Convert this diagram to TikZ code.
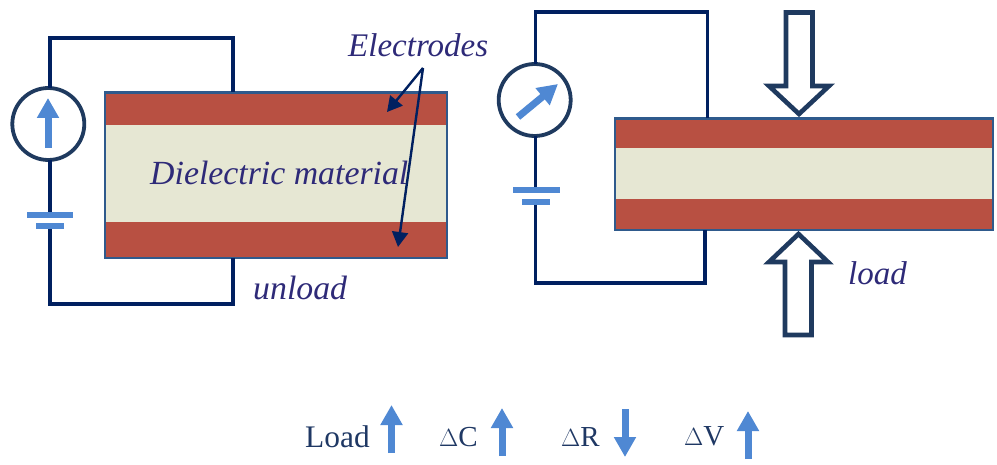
\documentclass[tikz,border=0pt]{standalone}
\usepackage{fontspec}
\setmainfont{Liberation Serif}
\usetikzlibrary{arrows.meta}
\definecolor{wire}{HTML}{002060}
\definecolor{ring}{HTML}{1F3A5F}
\definecolor{sky}{HTML}{4F88D3}
\definecolor{brick}{HTML}{B85042}
\definecolor{cream}{HTML}{E6E7D3}
\definecolor{edgeblue}{HTML}{2F5A8C}
\definecolor{ink}{HTML}{2E2A78}
\definecolor{navytext}{HTML}{1F3864}
\tikzset{
  x=1pt,y=-1pt,
  wireline/.style={draw=wire,line width=3.2pt,line join=miter},
  meter/.style={circle,draw=ring,fill=white,line width=3.8pt,minimum size=72pt,inner sep=0pt,outer sep=0pt},
  plate/.style={fill=sky,draw=none,minimum height=6pt,inner sep=0pt,outer sep=0pt},
  band/.style={fill=brick,draw=none,inner sep=0pt,outer sep=0pt},
  core/.style={fill=cream,draw=none,inner sep=0pt,outer sep=0pt},
  frame/.style={draw=edgeblue,line width=2.2pt,fill=none,inner sep=0pt,outer sep=0pt},
  flow/.style={draw=sky,line width=7pt,-{Triangle[length=20pt,width=21pt]}},
  blockarrow/.style={draw=ring,fill=white,line width=4.6pt,line join=miter},
  callout/.style={draw=wire,line width=2.4pt,-{Triangle[length=15pt,width=16pt]}},
  itlabel/.style={text=ink,font=\itshape\fontsize{33}{36}\selectfont,inner sep=0pt,anchor=base west},
  itwide/.style={text=ink,font=\itshape\fontsize{33.8}{36}\selectfont,inner sep=0pt,anchor=base west},
  rmlabel/.style={text=navytext,font=\fontsize{29}{32}\selectfont,inner sep=0pt,anchor=base west},
  rmwide/.style={text=navytext,font=\fontsize{31.4}{34}\selectfont,inner sep=0pt,anchor=base west},
}
\newcommand{\mkbox}[7]{% name x0 x1 y0 y1 y2 y3
  \node[band,anchor=north west,minimum width=#3pt-#2pt,minimum height=#7pt-#4pt] (#1top) at (#2,#4) {};
  \node[core,anchor=north west,minimum width=#3pt-#2pt,minimum height=#6pt-#5pt] (#1core) at (#2,#5) {};
  \node[frame,anchor=north west,minimum width=#3pt-#2pt,minimum height=#7pt-#4pt] (#1) at (#2,#4) {};
}
\begin{document}
\begin{tikzpicture}
\useasboundingbox (0,0) rectangle (997,465);
% ---- left circuit
\coordinate (lTL) at (50,38);
\coordinate (lTR) at (233,38);
\coordinate (lBL) at (50,304);
\coordinate (lBR) at (233,304);
\mkbox{lbox}{105}{447}{92.5}{125}{222}{258}
\node[meter] (lm) at (48.3,124) {};
\node[plate,minimum width=46pt] (lp1) at (50,215) {};
\node[plate,minimum width=28pt] (lp2) at (50,226.5) {};
\draw[wireline] (lm.north -| lTL) -- (lTL) -- (lTR) -- (lTR |- lbox.north);
\draw[wireline] (lm.south -| lTL) -- (lp1.north);
\draw[wireline] (lp2.south) -- (lBL) -- (lBR) -- (lBR |- lbox.south);
\coordinate (lfa) at (48,148);
\coordinate (lfb) at (48,98);
\draw[flow] (lfa) -- (lfb);
% ---- right circuit
\coordinate (rTL) at (535.5,12);
\coordinate (rTR) at (707.5,12);
\coordinate (rBL) at (535.5,283);
\coordinate (rBR) at (705,283);
\mkbox{rbox}{615}{993}{118.5}{148}{199}{230}
\node[meter] (rm) at (534.7,100) {};
\node[plate,minimum width=47pt] (rp1) at (536.5,190) {};
\node[plate,minimum width=28pt] (rp2) at (535.5,202) {};
\draw[wireline] (rm.north -| rTL) -- (rTL) -- (rTR) -- (rTR |- rbox.north);
\draw[wireline] (rm.south -| rTL) -- (rTL |- rp1.north);
\draw[wireline] (rp2.south) -- (rBL) -- (rBR) -- (rBR |- rbox.south);
\coordinate (rfa) at (518,117);
\coordinate (rfb) at (558,84);
\draw[flow] (rfa) -- (rfb);
% ---- load arrows
\draw[blockarrow] (786,12.5) -- (812.5,12.5) -- (812.5,86) -- (829,86) -- (799,114) -- (769,86) -- (786,86) -- cycle;
\draw[blockarrow] (785,335) -- (811.5,335) -- (811.5,262) -- (828,262) -- (798.5,234) -- (769,262) -- (785,262) -- cycle;
% ---- labels
\node[itlabel] (electrodes) at (348,57) {Electrodes};
\node[itwide] (dielectric) at (150,185) {Dielectric material};
\node[itwide] (unload) at (253,300) {unload};
\node[itlabel] (load) at (848,285) {load};
\coordinate (eo) at (423,68);
\coordinate (et1) at (387,112);
\coordinate (et2) at (398,247);
\draw[callout] (eo) -- (et1);
\draw[callout] (eo) -- (et2);
% ---- bottom row
\node[rmwide] (tload) at (305,447) {Load};
\node[rmlabel] (tc) at (439,446) {$\Delta$C};
\node[rmlabel] (tr) at (561,446) {$\Delta$R};
\node[rmlabel] (tv) at (684,445) {$\Delta$V};
\coordinate (a1) at (391.5,453); \coordinate (a1t) at (391.5,405);
\coordinate (a2) at (502,456);   \coordinate (a2t) at (502,408);
\coordinate (a3) at (625,409);   \coordinate (a3t) at (625,457);
\coordinate (a4) at (748,459);   \coordinate (a4t) at (748,411);
\draw[flow] (a1) -- (a1t);
\draw[flow] (a2) -- (a2t);
\draw[flow] (a3) -- (a3t);
\draw[flow] (a4) -- (a4t);
\end{tikzpicture}
\end{document}
